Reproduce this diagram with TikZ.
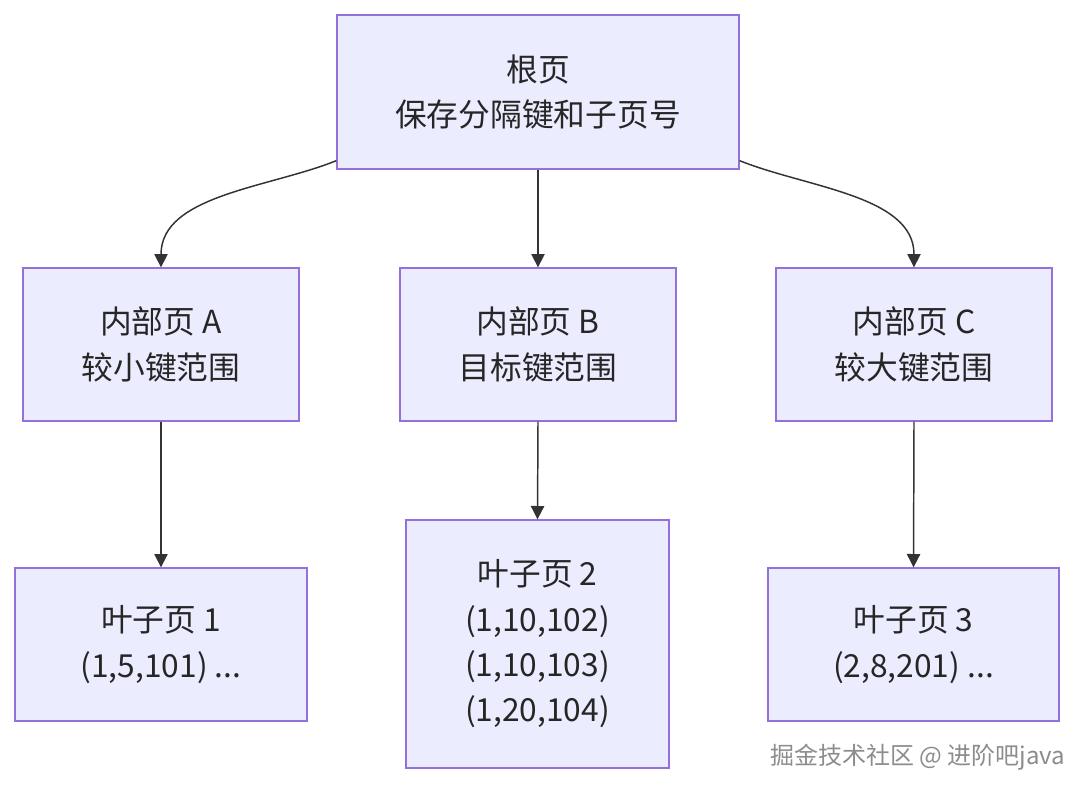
\documentclass[tikz,border=0pt]{standalone}
\usepackage{fontspec}
\setmainfont{Noto Sans CJK SC}
\usetikzlibrary{arrows.meta}

\definecolor{boxfill}{HTML}{ECECFF}
\definecolor{boxline}{HTML}{9370DB}
\definecolor{edgeline}{HTML}{333333}

\begin{document}
\begin{tikzpicture}[x=0.75pt,y=-0.75pt,
    page/.style={draw=boxline,fill=boxfill,line width=1pt,align=center,inner sep=0pt,
      font=\fontsize{23.8}{34}\selectfont,text=black!85},
    link/.style={draw=edgeline,line width=1.1pt,-{Triangle[length=10pt,width=10pt]}}]
  % Boundary
  \path[use as bounding box] (0,0) rectangle (1092,796);
  % Root
  \node[page,minimum width=402*0.75pt,minimum height=154*0.75pt] (root) at (538,92) {根页\\保存分隔键和子页号};
  % Internal pages
  \node[page,minimum width=276*0.75pt,minimum height=153*0.75pt] (innerA) at (161,344.5) {内部页 A\\较小键范围};
  \node[page,minimum width=276*0.75pt,minimum height=153*0.75pt] (innerB) at (538,344.5) {内部页 B\\目标键范围};
  \node[page,minimum width=276*0.75pt,minimum height=153*0.75pt] (innerC) at (914,344.5) {内部页 C\\较大键范围};
  % Leaf pages
  \node[page,minimum width=292*0.75pt,minimum height=153*0.75pt] (leafA) at (161,644.5) {叶子页 1\\(1,5,101) ...};
  \node[page,minimum width=263*0.75pt,minimum height=248*0.75pt] (leafB) at (537.5,644) {叶子页 2\\(1,10,102)\\(1,10,103)\\(1,20,104)};
  \node[page,minimum width=291*0.75pt,minimum height=153*0.75pt] (leafC) at (913.5,644.5) {叶子页 3\\(2,8,201) ...};
  % Edges
  \coordinate (rootL) at ([yshift=9*0.75pt]root.south west);
  \coordinate (rootR) at ([yshift=9*0.75pt]root.south east);
  \draw[link] (rootL) to[out=202,in=90,looseness=0.9] (innerA.north);
  \draw[link] (root.south) -- (innerB.north);
  \draw[link] (rootR) to[out=-22,in=90,looseness=0.9] (innerC.north);
  \draw[link] (innerA.south) -- (leafA.north);
  \draw[link] (innerB.south) -- (leafB.north);
  \draw[link] (innerC.south) -- (leafC.north);
  % Watermark
  \node[text=black!45,font=\fontsize{18}{20}\selectfont,anchor=east] (mark) at (1070,757) {掘金技术社区 @ 进阶吧java};
\end{tikzpicture}
\end{document}
